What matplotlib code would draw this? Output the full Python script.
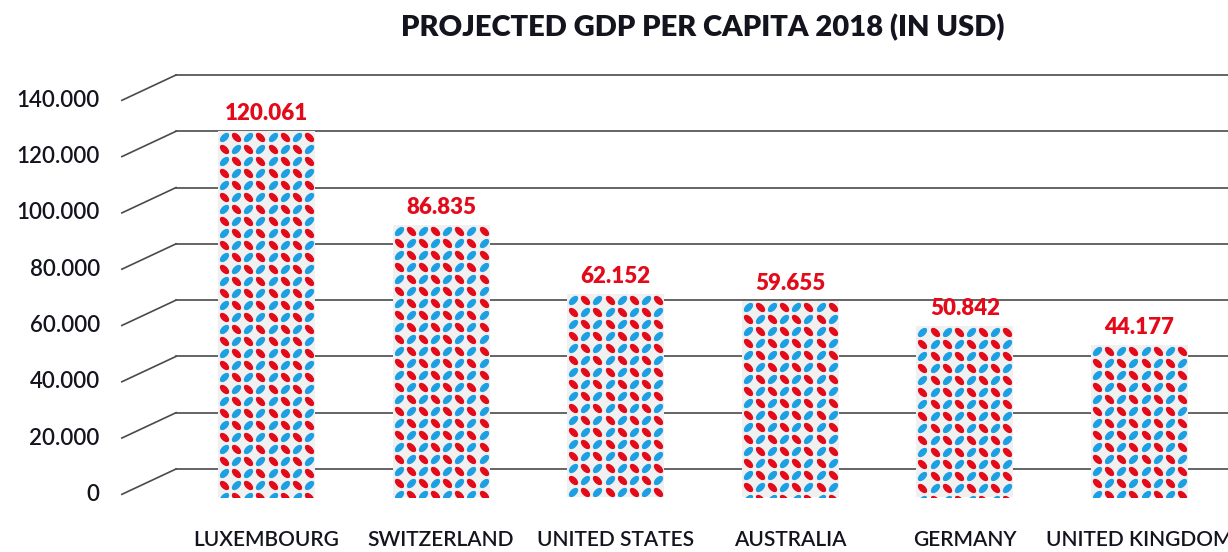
import matplotlib
matplotlib.use("Agg")
import matplotlib.pyplot as plt
import numpy as np
from matplotlib.path import Path
from matplotlib.transforms import Affine2D

plt.rcParams["font.family"] = ["Lato", "DejaVu Sans"]

COUNTRIES = ["LUXEMBOURG", "SWITZERLAND", "UNITED STATES",
             "AUSTRALIA", "GERMANY", "UNITED KINGDOM"]
GDP = [120061, 86835, 62152, 59655, 50842, 44177]

Y_TICKS = [0, 20000, 40000, 60000, 80000, 100000, 120000, 140000]
Y_TICK_LABELS = ["0", "20.000", "40.000", "60.000", "80.000",
                 "100.000", "120.000", "140.000"]

TITLE = "PROJECTED GDP PER CAPITA 2018 (IN USD)"

RED = "#e30a1a"
BLUE = "#1d9fe4"
FACE = "#f0f0f0"
GRID = "#4a4a4a"
TEXT = "#14141e"

DEPTH = 9000        # front edge sits lower than the back wall
BAR_BOTTOM = -10000
BAR_WIDTH = 0.556
N_COLS = 8
CELL_PX = 12

W, H = 1228, 552
YLIM = (-29492, 166650)
XLIM = (-1.526, 5.507)


def leaf(angle):
    return Path.unit_circle().transformed(Affine2D().scale(1, 0.58).rotate_deg(angle))


def fmt(v):
    return f"{v:,}".replace(",", ".")


def plot():
    fig = plt.figure(figsize=(W / 100, H / 100), dpi=100)
    ax = fig.add_axes([0, 0, 1, 1])
    ax.set_xlim(*XLIM)
    ax.set_ylim(*YLIM)
    ax.axis("off")

    cell_y = CELL_PX * (YLIM[1] - YLIM[0]) / H
    x_front, x_back = -0.828, -0.518

    for k, lbl in zip(Y_TICKS, Y_TICK_LABELS):
        ax.plot([x_front, x_back], [k - DEPTH, k], color=GRID, lw=1.2, zorder=1)
        ax.plot([x_back, XLIM[1] + 1], [k, k], color=GRID, lw=1.2, zorder=1,
                clip_on=False)
        ax.text(-0.954, k - DEPTH, lbl, ha="right", va="center",
                fontsize=16, fontweight="semibold", color=TEXT)

    blue_leaf = leaf(45)
    red_leaf = leaf(-45)

    for i, (name, val) in enumerate(zip(COUNTRIES, GDP)):
        rect = ax.bar(i, val - BAR_BOTTOM, bottom=BAR_BOTTOM, width=BAR_WIDTH,
                      color=FACE, zorder=2)[0]

        # leaf pattern, anchored at the top of each bar
        cell_x = BAR_WIDTH / N_COLS
        xs = i - BAR_WIDTH / 2 + (np.arange(N_COLS) + 0.5) * cell_x
        n_rows = int(np.ceil((val - BAR_BOTTOM) / cell_y)) + 1
        ys = val - (np.arange(n_rows) + 0.5) * cell_y
        gx, gy = np.meshgrid(xs, ys)
        cols, rows = np.meshgrid(np.arange(N_COLS), np.arange(n_rows))
        is_blue = (cols + rows) % 2 == 0

        sb = ax.scatter(gx[is_blue], gy[is_blue], marker=blue_leaf, s=48,
                        color=BLUE, linewidths=0, zorder=3)
        sr = ax.scatter(gx[~is_blue], gy[~is_blue], marker=red_leaf, s=48,
                        color=RED, linewidths=0, zorder=3)
        sb.set_clip_path(rect)
        sr.set_clip_path(rect)

        ax.annotate(fmt(val), (i, val), xytext=(0, 5), textcoords="offset points",
                    ha="center", va="bottom", color=RED, fontsize=16,
                    fontweight="heavy")
        ax.text(i, -25228, name, ha="center", va="center", fontsize=15,
                fontweight="semibold", color=TEXT)

    fig.text(0.572, 1 - 28 / H, TITLE, ha="center", va="center",
             fontsize=21, fontweight="heavy", color=TEXT)

    fig.savefig("out.png", dpi=100)
    plt.close()


if __name__ == "__main__":
    plot()
